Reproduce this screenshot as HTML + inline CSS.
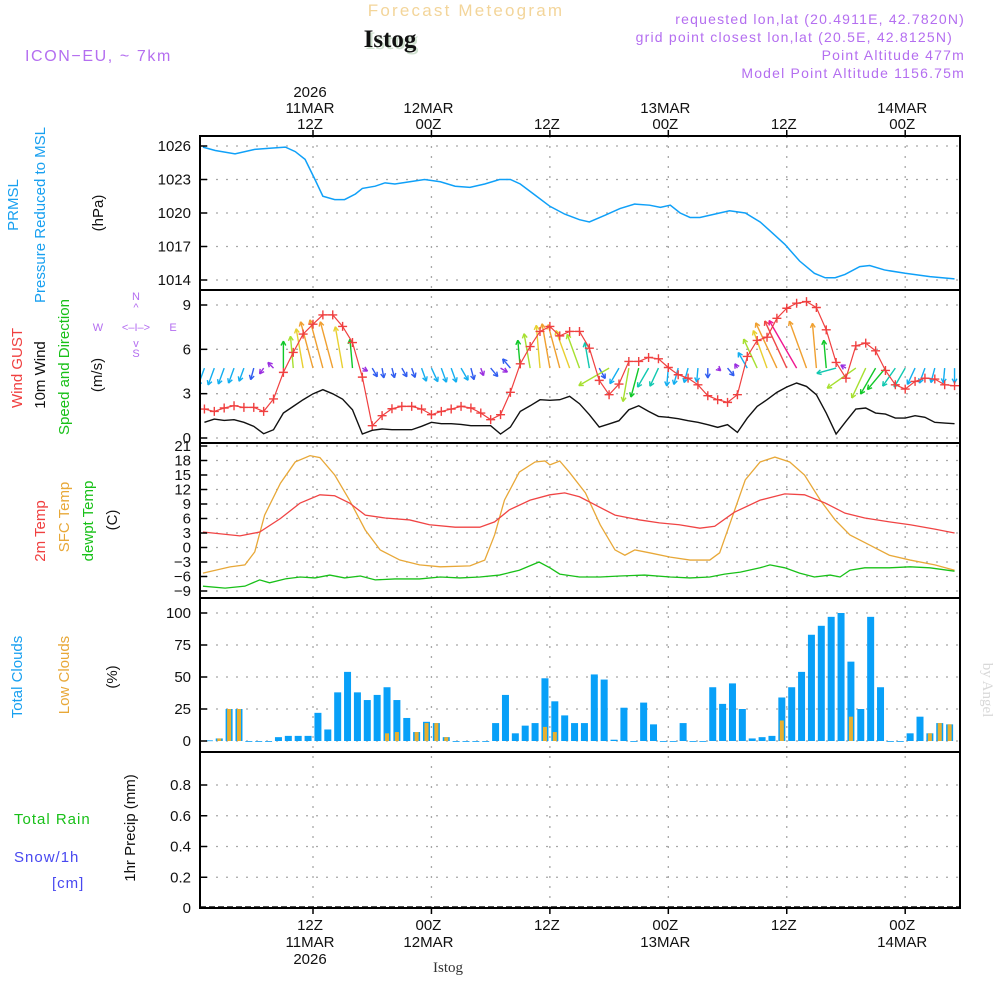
<!DOCTYPE html>
<html><head><meta charset="utf-8">
<style>
html,body{margin:0;padding:0;background:#fff;}
svg{display:block;font-family:"Liberation Sans",sans-serif;}
</style></head>
<body>
<svg id="chart" xmlns="http://www.w3.org/2000/svg" width="1000" height="1000" viewBox="0 0 1000 1000">
<rect x="0" y="0" width="1000" height="1000" fill="#fff"/>
<text x="466" y="16" text-anchor="middle" font-size="17" fill="#f3d59a" letter-spacing="2.2">Forecast Meteogram</text>
<text x="392" y="49" text-anchor="middle" font-size="25" font-weight="bold" font-family="Liberation Serif, serif" fill="#cfe0cf">Istog</text>
<text x="390" y="47" text-anchor="middle" font-size="25" font-weight="bold" font-family="Liberation Serif, serif" fill="#111">Istog</text>
<text x="25" y="61" font-size="16" fill="#b46ef0" letter-spacing="1.6">ICON−EU, ~ 7km</text>
<g font-size="14" fill="#b46ef0" text-anchor="end" letter-spacing="1.2">
<text x="965" y="24">requested lon,lat (20.4911E, 42.7820N)</text>
<text x="953" y="42">grid point closest lon,lat (20.5E, 42.8125N)</text>
<text x="965" y="60">Point Altitude 477m</text>
<text x="965" y="78">Model Point Altitude 1156.75m</text>
</g>
<text x="983" y="690" font-size="15" fill="#d8d8d8" font-family="Liberation Serif, serif" transform="rotate(90 983 690)" text-anchor="middle">by Angel</text>
<text x="448" y="972" font-size="15" font-family="Liberation Serif, serif" fill="#333" text-anchor="middle">Istog</text>
<g font-size="11" fill="#b46ef0" text-anchor="middle">
<text x="136" y="300">N</text>
<text x="136" y="311">^</text>
<text x="98" y="331">W</text>
<text x="136" y="331">&lt;–I–&gt;</text>
<text x="173" y="331">E</text>
<text x="136" y="347">v</text>
<text x="136" y="357">S</text>
</g>
<g id="layer"></g>
</svg>
<script>
// ---------- data ----------
const hours = [1,2,3,4,5,6,7,8,9,10,11,12,13,14,15,16,17,18,19,20,21,22,23,24,25,26,27,28,29,30,31,32,33,34,35,36,37,38,39,40,41,42,43,44,45,46,47,48,49,50,51,52,53,54,55,56,57,58,59,60,61,62,63,64,65,66,67,68,69,70,71,72,73,74,75,76,77];
const presHours = [0.85,2.1,4.1,6.1,7.6,9.2,10.2,11.2,12.2,13,14.2,15.2,16.3,17,18.3,19.3,20.3,21.8,23.3,24.9,26.4,27.9,29.4,30.9,32,33,34.5,36,37.5,39,40,41.6,43.1,44.6,46.1,47.2,48.2,49.2,50.2,51.2,52.7,54.2,55.8,57.3,58.3,59.8,61.3,62.8,63.9,64.9,65.9,67.4,68.4,69.9,72,74.5,77];
const presVals = [1025.9,1025.6,1025.3,1025.7,1025.8,1025.9,1025.5,1024.8,1023.0,1021.5,1021.2,1021.2,1021.7,1022.2,1022.4,1022.7,1022.6,1022.8,1023.0,1022.8,1022.4,1022.3,1022.6,1023.0,1023.0,1022.6,1021.6,1020.6,1019.9,1019.4,1019.2,1019.8,1020.4,1020.8,1020.7,1020.5,1020.7,1020.0,1019.6,1019.6,1019.9,1020.2,1020.0,1019.2,1018.4,1017.2,1015.7,1014.6,1014.2,1014.2,1014.5,1015.2,1015.3,1014.9,1014.6,1014.3,1014.1];
const gustVals = [1.96,1.8,2.03,2.18,2.07,2.07,1.8,2.64,4.44,5.79,7.03,7.7,8.33,8.33,7.55,6.46,4.12,0.83,1.51,1.98,2.14,2.14,1.96,1.58,1.8,1.96,2.14,2.03,1.69,1.24,1.58,3.09,5.02,6.19,7.21,7.55,6.91,7.21,7.21,6.08,3.9,2.93,3.65,5.18,5.18,5.45,5.36,4.77,4.28,4.05,3.6,2.86,2.59,2.41,2.93,5.52,6.6,6.82,8.1,8.78,9.12,9.23,8.83,7.32,5.11,4.05,6.24,6.42,5.9,4.57,3.6,3.31,3.83,4.05,3.99,3.6,3.54];
const windVals = [1.06,1.28,1.19,1.24,1.06,0.79,0.29,0.56,1.69,2.14,2.59,2.99,3.27,2.99,2.63,1.91,0.27,0.52,0.61,0.56,0.56,0.56,0.79,1.06,0.97,0.97,0.92,0.83,0.83,0.83,0.27,0.74,1.8,2.18,2.59,2.55,2.59,2.82,2.32,1.58,0.74,0.95,1.17,1.91,2.18,1.8,1.46,1.4,1.31,1.17,1.06,0.9,0.72,0.9,0.38,1.35,2.14,2.59,3.09,3.45,3.72,3.49,2.93,1.69,0.27,1.13,1.96,2.03,1.69,1.62,1.35,1.35,1.51,1.4,1.06,1.01,0.97];
const arrowSpeed = [1.9,1.8,1.7,1.6,1.4,1.2,0.7,0.8,2.7,3.2,4.0,4.8,5.0,4.8,4.2,2.9,0.6,1.0,1.0,1.0,1.0,1.0,1.4,1.5,1.5,1.5,1.4,1.2,0.8,1.1,0.8,1.2,2.8,3.5,4.3,4.5,4.5,4.0,3.6,2.6,1.2,3.5,1.8,3.4,3.0,2.2,2.0,1.8,1.7,1.5,1.4,1.0,0.4,1.0,0.5,1.8,3.2,4.0,5.0,5.2,5.5,5.0,4.5,2.8,2.0,0.6,3.5,3.3,3.0,2.8,2.2,2.2,1.8,1.6,1.5,1.5,1.5];
const arrowHeading = [200,200,200,200,200,195,215,315,0,355,350,345,345,345,350,355,120,150,170,165,150,160,160,155,160,160,150,165,160,140,120,320,355,350,355,350,345,340,340,350,150,240,210,190,195,210,205,185,195,195,185,180,130,140,330,330,335,340,335,335,330,340,355,355,255,300,235,205,210,220,215,210,205,200,195,185,180];
const t2Hours = [0.85,4.6,6.6,8.7,10.7,12.7,14.2,15.7,17.3,19.3,21.8,23.8,26.4,28.9,30.4,31.9,34,36,37.5,39,40.6,42.6,45.1,47.1,49.1,51.2,52.7,54.7,57.3,59.8,61.8,63.9,65.9,67.9,70.4,72.5,75,77];
const t2Vals = [3.2,2.4,3.2,6.0,9.2,10.9,10.7,9.2,6.7,6.1,5.7,4.7,4.2,4.2,5.3,7.8,9.8,10.9,11.3,10.5,8.8,6.7,5.7,5.1,4.7,4.0,4.4,7.3,9.8,11.1,10.9,9.2,7.1,6.1,5.3,4.7,3.8,3.0];
const sfcHours = [0.85,3.6,5.1,6.1,7.1,8.7,10.2,11.7,12.7,14.2,15.7,17.3,18.8,20.8,22.8,24.9,27.9,29.4,30.4,31.4,32.9,34.5,35.5,36,37,38,39.6,41.1,42.6,43.6,44.6,46.1,48.2,50.2,52.2,53.2,54.2,55.8,57.3,58.8,60.3,61.8,63.4,64.9,66.4,68.4,70.4,72.5,75,77];
const sfcVals = [-5.3,-4.0,-3.6,-0.9,6.7,13.3,17.7,19.0,18.6,15.0,9.8,3.6,-0.5,-2.6,-3.6,-4.0,-3.8,-2.6,2.6,9.8,15.6,17.7,17.9,17.1,17.9,15.5,11.3,4.7,-0.5,-1.6,-0.5,-1.1,-2.0,-2.6,-2.6,-1.1,4.7,14.0,17.7,18.7,17.7,15.0,9.8,5.7,2.6,0.5,-1.6,-2.6,-3.6,-4.7];
const dewHours = [0.85,3.1,5.1,6.6,7.6,9.2,10.7,12.2,13.7,15.2,16.8,18.3,20.3,22.8,24.9,26.9,28.9,30.9,32.9,34.9,36,37,39,41.1,43.1,45.6,48.2,50.2,52.2,53.7,55.3,57.3,58.3,59.8,61.3,62.8,64.4,65.4,66.4,67.9,70.4,72.5,74.5,77];
const dewVals = [-8.0,-8.4,-8.0,-6.7,-7.3,-6.5,-6.1,-6.3,-5.7,-6.3,-5.9,-6.7,-6.5,-6.5,-6.1,-6.3,-6.1,-5.7,-4.7,-3.0,-4.2,-5.5,-6.1,-6.1,-5.9,-5.7,-6.1,-6.3,-6.1,-5.5,-5.1,-4.2,-3.6,-4.2,-5.3,-6.1,-5.7,-6.1,-4.7,-4.2,-4.2,-4.0,-4.2,-4.9];
const cloudHours = [1.5,2.5,3.5,4.5,5.5,6.5,7.5,8.5,9.5,10.5,11.5,12.5,13.5,14.5,15.5,16.5,17.5,18.5,19.5,20.5,21.5,22.5,23.5,24.5,25.5,26.5,27.5,28.5,29.5,30.5,31.5,32.5,33.5,34.5,35.5,36.5,37.5,38.5,39.5,40.5,41.5,42.5,43.5,44.5,45.5,46.5,47.5,48.5,49.5,50.5,51.5,52.5,53.5,54.5,55.5,56.5,57.5,58.5,59.5,60.5,61.5,62.5,63.5,64.5,65.5,66.5,67.5,68.5,69.5,70.5,71.5,72.5,73.5,74.5,75.5,76.5];
const totalClouds = [0.5,2,25,25,0,0,0,3,4,4,4,22,9,38,54,38,32,36,42,32,18,7,15,14,3,0,0,0,0,14,36,6,12,14,49,31,20,14,14,52,48,1,26,0,30,13,0,0,14,0,0,42,29,45,25,2,3,4,34,42,54,83,90,97,100,62,25,97,42,0,0,6,19,6,14,13];
const lowClouds = [0,2,25,25,0,0,0,0,0,0,0,0,0,0,0,0,0,0,6,7,0,7,14,14,3,0,0,0,0,0,0,0,0,0,11,7,0,0,0,0,0,0,0,0,0,0,0,0,0,0,0,0,0,0,0,0,0,0,16,0,0,0,0,0,0,19,0,0,0,0,0,0,0,6,14,13];
const rainVals = new Array(76).fill(0);
const presTicks = [1014,1017,1020,1023,1026];
const windTicks = [0,3,6,9];
const tempTicks = [-9,-6,-3,0,3,6,9,12,15,18,21];
const cloudTicks = [0,25,50,75,100];
const precipTicks = [0,0.2,0.4,0.6,0.8];
const gridHours = [12,24,36,48,60,72];
const topLabels = [["2026","11MAR","12Z"],["","12MAR","00Z"],["","","12Z"],["","13MAR","00Z"],["","","12Z"],["","14MAR","00Z"]];
const bottomLabels = [["12Z","11MAR","2026"],["00Z","12MAR",""],["12Z","",""],["00Z","13MAR",""],["12Z","",""],["00Z","14MAR",""]];

// ---------- axes ----------
const X0 = 200, X1 = 960;
const x = h => 313 + (h - 12) * 9.87;
const panels = {
  pres:  {top:136, bot:290, y: v => 146 + (1026 - v) * (134/12)},
  wind:  {top:290, bot:443, y: v => 438 - v * (133/9)},
  temp:  {top:443, bot:598, y: v => 547.5 - v * (145/30)},
  cloud: {top:598, bot:752, y: v => 741 - v * 1.28},
  prec:  {top:752, bot:908, y: v => 908 - v * (123/0.8)}
};
const NS = "http://www.w3.org/2000/svg";
const layer = document.getElementById('layer');
function mk(tag, attrs, parent){ const e = document.createElementNS(NS, tag); for (const k in attrs) e.setAttribute(k, attrs[k]); (parent||layer).appendChild(e); return e; }
function txt(s, attrs, parent){ const e = mk('text', attrs, parent); e.textContent = s; return e; }

const defs = mk('defs', {});
const cp = mk('clipPath', {id:'plotclip'}, defs);
mk('rect', {x:X0, y:136, width:X1-X0, height:772}, cp);

// grid
const grid = mk('g', {stroke:'#a8a8a8', 'stroke-width':1.3, 'stroke-dasharray':'2 8', fill:'none'});


function hgrid(p, ticks){ ticks.forEach(t => { const yy = p.y(t); if (yy > p.top+2 && yy < p.bot-2) { const l = mk('line', {x1:X0+6, x2:X1, y1:yy, y2:yy}, grid);   } }); }
hgrid(panels.pres, presTicks); hgrid(panels.wind, windTicks); hgrid(panels.temp, tempTicks); hgrid(panels.cloud, cloudTicks); hgrid(panels.prec, precipTicks);
gridHours.forEach(h => { const l = mk('line', {x1:x(h), x2:x(h), y1:136, y2:908}, grid);   });

// pressure
const pg = mk('g', {'clip-path':'url(#plotclip)'});


mk('polyline', {points: presHours.map((h,i)=>x(h)+','+panels.pres.y(presVals[i])).join(' '), fill:'none', stroke:'#0fa0f8', 'stroke-width':1.5}, pg);

// wind
const wg = mk('g', {'clip-path':'url(#plotclip)'});


function spdColor(s){ if (s < 0.9) return '#9a2ee0'; if (s < 1.3) return '#2f5cf0'; if (s < 2.0) return '#12aef0'; if (s < 2.7) return '#10c8b0'; if (s < 3.2) return '#10c828'; if (s < 3.7) return '#a6e030'; if (s < 4.5) return '#e8d030'; if (s < 5.1) return '#f0a030'; if (s < 5.4) return '#f04848'; return '#f01890'; }
const baseY = panels.wind.y(4.73);
hours.forEach((h,i) => {
  const L = arrowSpeed[i] * 10, a = arrowHeading[i] * Math.PI/180;
  const bx = x(h), tx = bx + L*Math.sin(a), ty = baseY - L*Math.cos(a);
  const c = spdColor(arrowSpeed[i]);
  const g = mk('g', {stroke:c, 'stroke-width':1.4, fill:'none'}, wg);
  
  
  mk('line', {x1:bx, y1:baseY, x2:tx, y2:ty}, g);
  [a+Math.PI-0.5, a+Math.PI+0.5].forEach(b => mk('line', {x1:tx, y1:ty, x2:tx+5*Math.sin(b), y2:ty-5*Math.cos(b)}, g));
});
const gl = mk('polyline', {points: hours.map((h,i)=>x(h)+','+panels.wind.y(gustVals[i])).join(' '), fill:'none', stroke:'#f04040', 'stroke-width':1.2}, wg);


hours.forEach((h,i) => {
  const cx = x(h), cy = panels.wind.y(gustVals[i]);
  const m = mk('path', {d:`M${cx-4.5},${cy}H${cx+4.5}M${cx},${cy-4.5}V${cy+4.5}`, stroke:'#f04040', 'stroke-width':1.4}, wg);
  
  
});
const wl = mk('polyline', {points: hours.map((h,i)=>x(h)+','+panels.wind.y(windVals[i])).join(' '), fill:'none', stroke:'#111', 'stroke-width':1.4}, wg);



// temps
const tg = mk('g', {'clip-path':'url(#plotclip)', fill:'none', 'stroke-width':1.3});


const sl = mk('polyline', {points: sfcHours.map((h,i)=>x(h)+','+panels.temp.y(sfcVals[i])).join(' '), stroke:'#e8a838'}, tg);
 
const tl = mk('polyline', {points: t2Hours.map((h,i)=>x(h)+','+panels.temp.y(t2Vals[i])).join(' '), stroke:'#f04444'}, tg);
 
const dl = mk('polyline', {points: dewHours.map((h,i)=>x(h)+','+panels.temp.y(dewVals[i])).join(' '), stroke:'#18c018'}, tg);
 

// clouds
const cg = mk('g', {'clip-path':'url(#plotclip)'});


cloudHours.forEach((h,i) => {
  const y0 = panels.cloud.y(0), yt = panels.cloud.y(totalClouds[i]);
  const b = mk('rect', {x:x(h)-3.5, y:yt, width:7, height:Math.max(0.8, y0-yt), fill:'#08a0f8'}, cg);
  
  
  if (lowClouds[i] > 0) {
    const yl = panels.cloud.y(lowClouds[i]);
    const lb = mk('rect', {x:x(h)-2, y:yl, width:4, height:y0-yl, fill:'#e8b030'}, cg);
    
    
  }
});
// precip
const rg = mk('g', {'clip-path':'url(#plotclip)'});


cloudHours.forEach((h,i) => { if (rainVals[i] > 0) { const yr = panels.prec.y(rainVals[i]); const r = mk('rect', {x:x(h)-3.5, y:yr, width:7, height:panels.prec.y(0)-yr, fill:'#18c018'}, rg);   } });
mk('line', {x1:X0, x2:X1, y1:907, y2:907, stroke:'#111', 'stroke-width':1.5, 'stroke-dasharray':'6 3'}, rg);

// frames and ticks
const fr = mk('g', {stroke:'#000', fill:'none', 'stroke-width':2});


Object.values(panels).forEach(p => mk('rect', {x:X0, y:p.top, width:X1-X0, height:p.bot-p.top}, fr));
const tk = mk('g', {'font-size':15, fill:'#111', 'text-anchor':'end'});


function yticks(p, ticks, fmt){ ticks.forEach(t => { const yy = p.y(t); mk('line', {x1:X0, x2:X0+7, y1:yy, y2:yy, stroke:'#000', 'stroke-width':1.5}); const e = txt(fmt(t), {x:191, y:yy+5}, tk);   }); }
yticks(panels.pres, presTicks, String); yticks(panels.wind, windTicks, String); yticks(panels.temp, tempTicks, t => t < 0 ? '−'+(-t) : String(t)); yticks(panels.cloud, cloudTicks, String); yticks(panels.prec, precipTicks, t => t === 0 ? '0' : t.toFixed(1));
const xl = mk('g', {'font-size':15, fill:'#111', 'text-anchor':'middle'});


gridHours.forEach((h,i) => {
  mk('line', {x1:x(h), x2:x(h), y1:136, y2:130, stroke:'#000', 'stroke-width':1.5});
  mk('line', {x1:x(h), x2:x(h), y1:908, y2:914, stroke:'#000', 'stroke-width':1.5});
  topLabels[i].forEach((s,k) => { if (s) { const e = txt(s, {x:x(h)-3, y:97+k*16}, xl);   } });
  bottomLabels[i].forEach((s,k) => { if (s) { const e = txt(s, {x:x(h)-3, y:930+k*17}, xl);   } });
});

// side labels
const sideLabels = [
  ['PRMSL',18,205,'#18a0f0'],['Pressure Reduced to MSL',45,215,'#18a0f0'],['(hPa)',103,213,'#111'],
  ['Wind GUST',22,368,'#f04040'],['10m Wind',45,375,'#111'],['Speed and Direction',69,367,'#18c018'],['(m/s)',102,375,'#111'],
  ['2m Temp',45,531,'#f04040'],['SFC Temp',69,517,'#e8a838'],['dewpt Temp',93,521,'#18c018'],['(C)',117,520,'#111'],
  ['Total Clouds',22,677,'#18a0f0'],['Low Clouds',69,675,'#e8a838'],['(%)',117,677,'#111'],
  ['1hr Precip (mm)',135,828,'#111']
];
const sg = mk('g', {'font-size':15, 'text-anchor':'middle'});


sideLabels.forEach(([s,cx,cy,c]) => { const e = txt(s, {x:cx, y:cy, fill:c, transform:`rotate(-90 ${cx} ${cy})`}, sg);   });
const pl = mk('g', {'font-size':15});


txt('Total  Rain', {x:14, y:824, fill:'#18c018', 'xml:space':'preserve', 'letter-spacing':'1'}, pl);
txt('Snow/1h', {x:14, y:862, fill:'#4848f0', 'letter-spacing':'1'}, pl);
txt('[cm]', {x:52, y:888, fill:'#4848f0', 'letter-spacing':'1'}, pl);
</script>
</body></html>
